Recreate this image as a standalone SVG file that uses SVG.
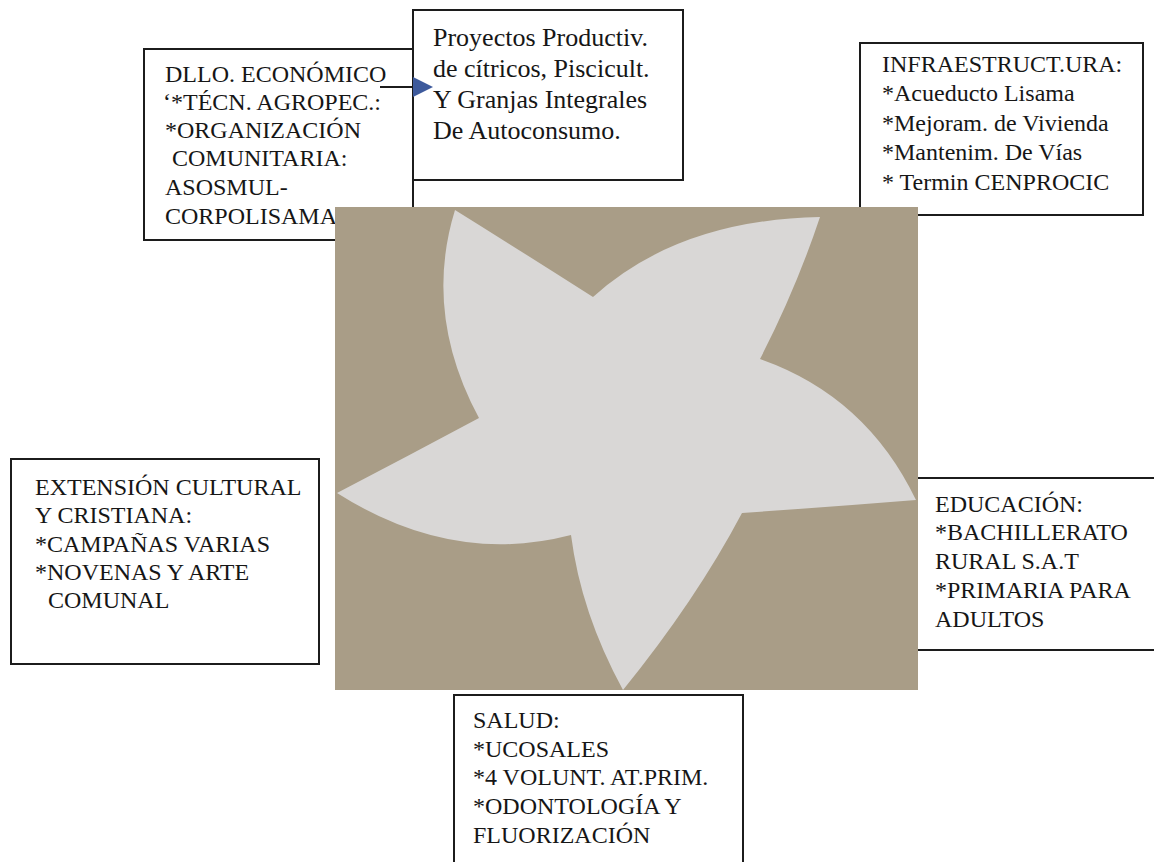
<svg xmlns="http://www.w3.org/2000/svg" width="1154" height="862" viewBox="0 0 1154 862">
<rect width="1154" height="862" fill="#ffffff"/>

<g font-size="24" fill="#161616">
<g id="node-dllo">
<rect x="144" y="49" width="269" height="191" fill="#ffffff" stroke="#1c1c1c" stroke-width="2"/>
<text font-family="Liberation Serif" x="165" y="82">DLLO. ECONÓMICO</text>
<text font-family="Liberation Serif" x="163" y="110">‘*TÉCN. AGROPEC.:</text>
<text font-family="Liberation Serif" x="165" y="138">*ORGANIZACIÓN</text>
<text font-family="Liberation Serif" x="172" y="166">COMUNITARIA:</text>
<text font-family="Liberation Serif" x="165" y="195">ASOSMUL-</text>
<text font-family="Liberation Serif" x="165" y="224">CORPOLISAMA</text>
</g>

<g id="node-proyectos" font-size="26">
<rect x="413" y="10" width="270" height="170" fill="#ffffff" stroke="#1c1c1c" stroke-width="2"/>
<text font-family="Liberation Serif" x="433" y="46">Proyectos Productiv.</text>
<text font-family="Liberation Serif" x="433" y="77">de cítricos, Piscicult.</text>
<text font-family="Liberation Serif" x="433" y="108">Y Granjas Integrales</text>
<text font-family="Liberation Serif" x="433" y="139">De Autoconsumo.</text>
</g>

<g id="node-infra">
<rect x="860" y="43" width="283" height="172" fill="#ffffff" stroke="#1c1c1c" stroke-width="2"/>
<text font-family="Liberation Serif" x="882" y="72">INFRAESTRUCT.URA:</text>
<text font-family="Liberation Serif" x="882" y="101">*Acueducto Lisama</text>
<text font-family="Liberation Serif" x="882" y="131">*Mejoram. de Vivienda</text>
<text font-family="Liberation Serif" x="882" y="160">*Mantenim. De Vías</text>
<text font-family="Liberation Serif" x="882" y="190">* Termin CENPROCIC</text>
</g>

<g id="node-extension">
<rect x="11" y="459" width="308" height="205" fill="#ffffff" stroke="#1c1c1c" stroke-width="2"/>
<text font-family="Liberation Serif" x="35" y="495">EXTENSIÓN CULTURAL</text>
<text font-family="Liberation Serif" x="35" y="523">Y CRISTIANA:</text>
<text font-family="Liberation Serif" x="35" y="552">*CAMPAÑAS VARIAS</text>
<text font-family="Liberation Serif" x="35" y="580">*NOVENAS Y ARTE</text>
<text font-family="Liberation Serif" x="48" y="608">COMUNAL</text>
</g>

<g id="node-educacion">
<rect x="917" y="478" width="260" height="172" fill="#ffffff" stroke="#1c1c1c" stroke-width="2"/>
<text font-family="Liberation Serif" x="935" y="512">EDUCACIÓN:</text>
<text font-family="Liberation Serif" x="935" y="540">*BACHILLERATO</text>
<text font-family="Liberation Serif" x="935" y="569">RURAL S.A.T</text>
<text font-family="Liberation Serif" x="935" y="598">*PRIMARIA PARA</text>
<text font-family="Liberation Serif" x="935" y="627">ADULTOS</text>
</g>

<g id="node-salud">
<rect x="454" y="695" width="289" height="200" fill="#ffffff" stroke="#1c1c1c" stroke-width="2"/>
<text font-family="Liberation Serif" x="473" y="728">SALUD:</text>
<text font-family="Liberation Serif" x="473" y="757">*UCOSALES</text>
<text font-family="Liberation Serif" x="473" y="785">*4 VOLUNT. AT.PRIM.</text>
<text font-family="Liberation Serif" x="473" y="814">*ODONTOLOGÍA Y</text>
<text font-family="Liberation Serif" x="473" y="843">FLUORIZACIÓN</text>
</g>
</g>

<g id="node-star">
<rect x="335" y="207" width="583" height="483" fill="#a99d87"/>
<path d="M455,210 Q524,253 593,297 Q678,220 820,217 Q796,289 760,359 Q866,396 916,500 Q829,507 742,513 Q696,600 623,690 Q581,613 571,535 Q452,566 337,493 Q408,456 479,418 Q423,314 455,210 Z" fill="#d9d7d6"/>
</g>

<g id="connectors">
<line x1="380" y1="87" x2="414" y2="87" stroke="#1c1c1c" stroke-width="2"/>
<polygon points="413,77 433,87 413,97" fill="#3d5a9c"/>
</g>
</svg>
